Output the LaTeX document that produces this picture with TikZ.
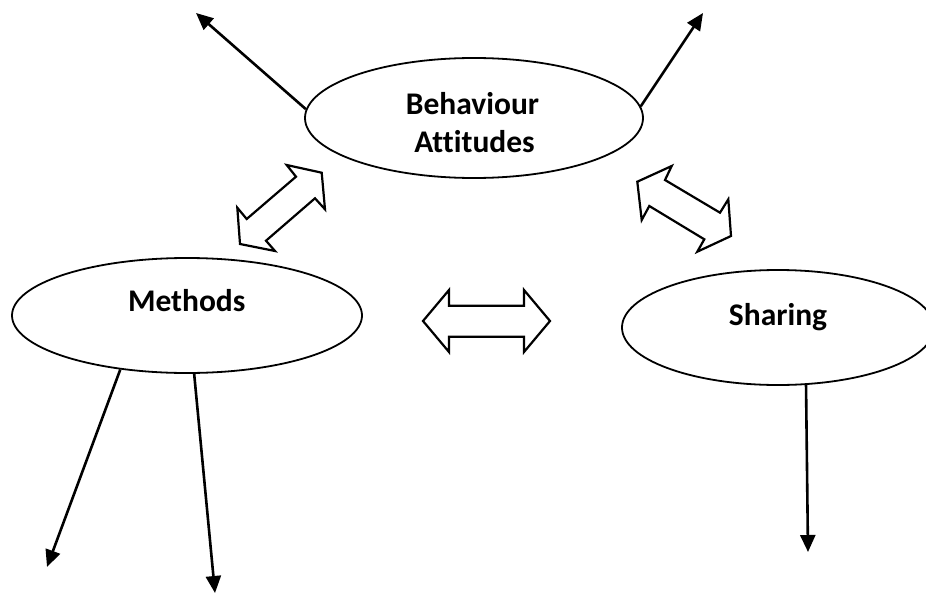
\documentclass[tikz,border=0pt]{standalone}
\usepackage{fontspec}
\setmainfont{Carlito}[Ligatures=NoCommon]
\usetikzlibrary{shapes.geometric,arrows.meta}
\begin{document}
\begin{tikzpicture}[x=1pt,y=-1pt,
  oval/.style={draw,ellipse,line width=1.8pt,inner sep=0pt},
  lbl/.style={anchor=base,font=\bfseries\fontsize{31.5}{38}\selectfont,inner sep=0pt},
  ray/.style={line width=2.6pt,-{Triangle[length=17pt,width=15pt]}},
  blk/.style={draw,line width=2.2pt,line join=miter,fill=white}]
\useasboundingbox (0,0) rectangle (926,594);
% ellipses
\node[oval,minimum width=338pt,minimum height=120pt] (beh) at (474,118) {};
\node[oval,minimum width=350pt,minimum height=115pt] (met) at (187,315.5) {};
\node[oval,minimum width=312pt,minimum height=115pt] (sha) at (778,327.5) {};
% labels
\node[lbl] (behA) at (472.5,114) {Behaviour};
\node[lbl] (behB) at (474.5,152.5) {Attitudes};
\node[lbl] (metL) at (186.7,311.5) {Methods};
\node[lbl] (shaL) at (778,325) {Sharing};
% free ends
\coordinate (t1) at (196,13);
\coordinate (t2) at (703,13);
\coordinate (t3) at (47,567);
\coordinate (t4) at (215,593);
\coordinate (t5) at (808,552);
% rays
\draw[ray] (beh.177) -- (t1);
\draw[ray] (beh.4) -- (t2);
\draw[ray] (met.219.9) -- (t3);
\draw[ray] (met.-83) -- (t4);
\draw[ray] (sha.-64.5) -- (t5);
% block double arrows
\draw[blk] (286.7,165) -- (296,176.7) -- (246.7,219) -- (237.3,207.7) -- (240,244)
  -- (275,251) -- (266,240.7) -- (315,198.3) -- (325,209.3) -- (321.7,172.7) -- cycle;
\draw[blk] (637.3,181.7) -- (671.7,166) -- (665,180) -- (720,212.7) -- (728.3,199.3)
  -- (731,236) -- (697.3,251.7) -- (704.3,239.3) -- (649.3,206) -- (641.7,220) -- cycle;
\draw[blk] (423,321) -- (449,290) -- (449,305.7) -- (524,305.7) -- (524,290) -- (550,321)
  -- (524,352) -- (524,336.7) -- (449,336.7) -- (449,352) -- cycle;
\end{tikzpicture}
\end{document}
